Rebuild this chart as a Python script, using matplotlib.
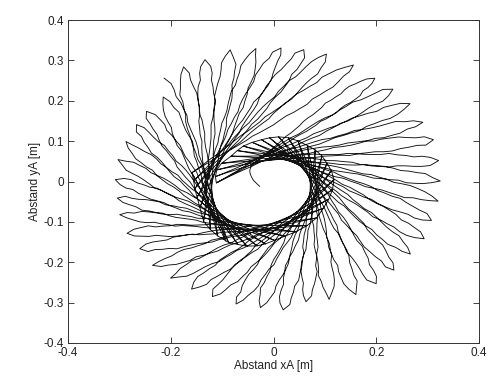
import numpy as np
import matplotlib
matplotlib.use("Agg")
import matplotlib.pyplot as plt

# Outer turning points of the swing loops [m], counter-clockwise from +x
tip_x = [0.324, 0.321, 0.311, 0.290, 0.266, 0.232, 0.195, 0.155, 0.105, 0.060,
         0.012, -0.036, -0.083, -0.133, -0.176, -0.213, -0.245, -0.268, -0.289,
         -0.302, -0.307, -0.304, -0.299, -0.285, -0.260, -0.234, -0.200, -0.161,
         -0.119, -0.072, -0.027, 0.018, 0.066, 0.110, 0.158, 0.198, 0.235, 0.266,
         0.292, 0.308, 0.321]
tip_y = [0.000, 0.049, 0.104, 0.148, 0.192, 0.229, 0.258, 0.289, 0.314, 0.326,
         0.332, 0.330, 0.326, 0.302, 0.284, 0.210, 0.175, 0.140, 0.097, 0.055,
         0.006, -0.042, -0.082, -0.126, -0.167, -0.211, -0.240, -0.265, -0.285,
         -0.304, -0.312, -0.318, -0.298, -0.292, -0.281, -0.254, -0.219, -0.180,
         -0.143, -0.095, -0.046]

# Inner spiral (envelope of the swing lines), clockwise from the inner hook
env_x = [-0.027, -0.040, -0.046, -0.035, -0.010, 0.025, 0.055, 0.072, 0.077,
         0.065, 0.035, -0.005, -0.050, -0.090, -0.115, -0.125, -0.122, -0.110,
         -0.090, -0.062]
env_y = [-0.012, 0.005, 0.028, 0.048, 0.058, 0.058, 0.042, 0.015, -0.020,
         -0.058, -0.090, -0.110, -0.113, -0.100, -0.070, -0.030, 0.010, 0.050,
         0.080, 0.100]

# Last point of the record (unfinished swing)
end_x, end_y = -0.214, 0.256

L_BACK = 0.095     # how far each swing line runs back past its tangent point
HALF_W = 0.0145    # half width of a loop at its widest


def catmull_rom(xv, yv, per=40):
    P = np.column_stack([xv, yv])
    P = np.vstack([2 * P[0] - P[1], P, 2 * P[-1] - P[-2]])
    t = np.linspace(0, 1, per, endpoint=False)[:, None]
    out = []
    for i in range(1, len(P) - 2):
        p0, p1, p2, p3 = P[i - 1], P[i], P[i + 1], P[i + 2]
        out.append(0.5 * (2 * p1 + (p2 - p0) * t
                          + (2 * p0 - 5 * p1 + 4 * p2 - p3) * t ** 2
                          + (3 * p1 - p0 - 3 * p2 + p3) * t ** 3))
    out.append(P[-2][None, :])
    return np.vstack(out)


curve = catmull_rom(env_x, env_y)
gx = np.gradient(curve[:, 0])
gy = np.gradient(curve[:, 1])
theta = np.unwrap(np.arctan2(gy, gx))
theta = np.minimum.accumulate(theta)          # clockwise: tangent angle falls
key = -theta + np.arange(len(theta)) * 1e-9   # strictly increasing lookup key


def env_at(th):
    k = -np.asarray(th)
    return np.interp(k, key, curve[:, 0]), np.interp(k, key, curve[:, 1])


def point(th, L, wob=0.0):
    ex, ey = env_at(th)
    c, s_ = np.cos(th), np.sin(th)
    return ex + L * c + wob * s_, ey + L * s_ - wob * c


def tangent_for(px, py):
    ex, ey = curve[:, 0], curve[:, 1]
    c, s_ = np.cos(theta), np.sin(theta)
    dx, dy = px - ex, py - ey
    cr = dx * s_ - dy * c
    dt = dx * c + dy * s_
    hits = np.where((np.sign(cr[:-1]) != np.sign(cr[1:])) & (dt[:-1] > 0))[0]
    if len(hits) == 0:
        i = int(np.argmin(np.abs(cr) + 10 * (dt <= 0)))
        return theta[i], max(dt[i], 0.05)
    i = hits[-1]
    f = cr[i] / (cr[i] - cr[i + 1])
    th = theta[i] + f * (theta[i + 1] - theta[i])
    ex_, ey_ = env_at(th)
    return th, np.hypot(px - ex_, py - ey_)


swings = sorted((tangent_for(x, y) for x, y in zip(tip_x, tip_y)),
                key=lambda p: -p[0])
th_end, L_end = tangent_for(end_x, end_y)
ths = np.array([p[0] for p in swings])
th_start = theta[0]


def back(th):
    return -L_BACK * np.clip((th_start - th) / 1.6, 0, 1)


xs, ys = [], []

# inner hook: the record starts on the spiral itself
th_path = np.linspace(th_start, ths[0], 160)
px, py = point(th_path, 0.0)
xs.extend(px)
ys.extend(py)

t = np.linspace(0, 1, 26)
prof = t ** 1.4 * (1 - t) ** 0.5
prof = prof / prof.max()


def ripple(tt, k, sgn):
    return (0.0022 * np.sin(2 * np.pi * 5.3 * tt + 1.7 * k + sgn)
            + 0.0012 * np.sin(2 * np.pi * 11.1 * tt + 0.9 * k - sgn)) * tt


def swing(th_k, L_k, k, half=False):
    L0 = float(back(th_k)) if k > 0 else 0.0
    L = L0 + (L_k - L0) * t
    w = HALF_W * prof * (0.8 + 0.4 * np.clip(L_k - 0.2, 0, 0.2) / 0.2)
    ox, oy = point(th_k, L, w + ripple(t, k, 0.0))
    if half:
        return ox, oy
    rx, ry = point(th_k, L, -w + ripple(t, k, 2.1))
    return np.concatenate([ox, rx[::-1][1:]]), np.concatenate([oy, ry[::-1][1:]])


for k, (th_k, L_k) in enumerate(swings):
    px, py = swing(th_k, L_k, k)
    xs.extend(px)
    ys.extend(py)

px, py = swing(th_end, L_end, len(swings), half=True)
xs.extend(px)
ys.extend(py)

plt.rcParams['font.family'] = ['Liberation Sans', 'DejaVu Sans']
fig = plt.figure(figsize=(4.88, 3.87), dpi=100)
ax = fig.add_axes([0.139, 0.114, 0.843, 0.834])
ax.plot(xs, ys, color='#111111', lw=0.65)

ax.set_xlim(-0.4, 0.4)
ax.set_ylim(-0.4, 0.4)
ax.set_xticks([-0.4, -0.2, 0, 0.2, 0.4])
ax.set_xticklabels(['-0.4', '-0.2', '0', '0.2', '0.4'])
ax.set_yticks(np.round(np.arange(-0.4, 0.41, 0.1), 1))
ax.set_yticklabels(['-0.4', '-0.3', '-0.2', '-0.1', '0', '0.1', '0.2', '0.3', '0.4'])
ax.tick_params(direction='in', top=True, right=True, length=4, width=0.6,
               labelsize=8.5, colors='#222222', pad=3)
for sp in ax.spines.values():
    sp.set_linewidth(0.7)
    sp.set_color('#333333')
ax.set_xlabel('Abstand xA [m]', fontsize=8.5, labelpad=1, color='#222222')
ax.set_ylabel('Abstand yA [m]', fontsize=8.5, labelpad=2, color='#222222')

fig.savefig('out.png', dpi=100)
